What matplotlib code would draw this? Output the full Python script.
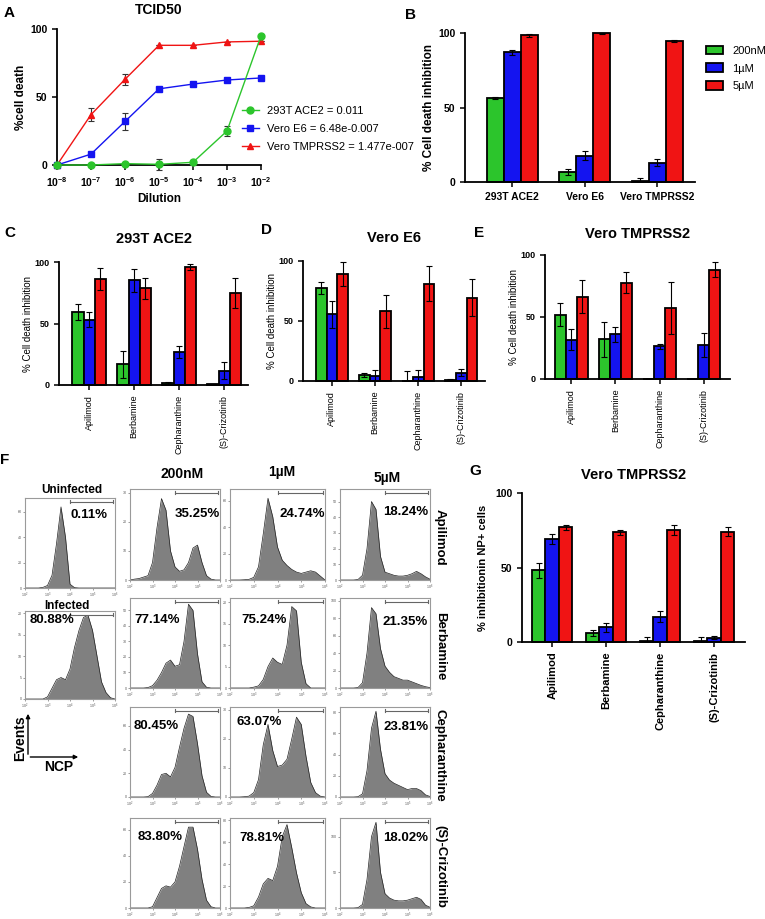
import numpy as np
import matplotlib
matplotlib.use('Agg')
import matplotlib.pyplot as plt
from matplotlib.lines import Line2D
from matplotlib.patches import Patch, FancyArrowPatch

plt.rcParams['font.family'] = ['Liberation Sans', 'DejaVu Sans']
plt.rcParams['mathtext.fontset'] = 'custom'
plt.rcParams['mathtext.rm'] = 'Liberation Sans'
plt.rcParams['mathtext.bf'] = 'Liberation Sans:bold'

# ---- panel A: TCID50 ----
dil_exp = [-8, -7, -6, -5, -4, -3, -2]
tcid_labels = ['293T ACE2 = 0.011', 'Vero E6 = 6.48e-0.007', 'Vero TMPRSS2 = 1.477e-007']
death_293t = [0, 0, 1, 0.5, 2, 25, 95]
err_293t = [0, 0, 0.5, 4, 2, 4, 0]
death_e6 = [0, 8, 32, 56, 59.5, 62.5, 64]
err_e6 = [0, 0, 6, 1.5, 0, 0, 0]
death_tmp = [0, 37, 63, 88, 88, 90.5, 91]
err_tmp = [0, 5, 4, 0, 0, 0, 0]

# ---- panel B ----
conc = ['200nM', '1µM', '5µM']
cells = ['293T ACE2', 'Vero E6', 'Vero TMPRSS2']
b_vals = [[56.5, 6.5, 1], [87, 17.5, 13], [98.5, 99.8, 94.5]]
b_err = [[0.8, 2, 1.5], [1.5, 3, 2.5], [1, 0.3, 0.5]]

# ---- panels C, D, E, G ----
drugs = ['Apilimod', 'Berbamine', 'Cepharanthine', '(S)-Crizotinib']
c_vals = [[59, 17, 1.5, 0.5], [53, 85, 27, 11.5], [86.5, 78.5, 95.7, 74.6]]
c_err = [[6.5, 11, 0.6, 0.5], [6, 9, 5, 7], [9, 8.7, 2.4, 12]]
d_vals = [[77.5, 5, 0, 1], [55.5, 4.5, 3, 7], [89, 58, 81, 69.5]]
d_err = [[5, 1.5, 8.5, 1], [11, 5, 6, 2.7], [10, 14, 14.5, 15.5]]
e_vals = [[52, 32, 0, 0], [31.5, 36, 26.5, 27.5], [66.5, 77.5, 57, 88]]
e_err = [[9, 14, 0, 0], [8.5, 6, 2, 10], [13, 8.5, 21, 6]]
g_vals = [[48, 6, 1, 0.5], [69, 10, 17, 3], [77, 73.5, 75, 74]]
g_err = [[5, 2, 2.5, 3], [3.5, 3, 3.5, 1.2], [1.5, 2, 3.5, 3]]

# ---- panel F: flow histograms (log10 NCP grid, event counts) ----
flow_logx = [2.0, 2.2, 2.4, 2.6, 2.8, 3.0, 3.2, 3.4, 3.6, 3.8, 4.0,
             4.2, 4.4, 4.6, 4.8, 5.0, 5.2, 5.4, 5.6, 5.8, 6.0]
uninfected = [0, 0, 0, 0, 0.5, 2, 10, 35, 64, 40, 3, 0.3, 0, 0, 0, 0, 0, 0, 0, 0, 0]
infected = [0, 0, 0, 0, 0, 0.5, 2.5, 4.5, 5, 4.5, 7, 12, 16, 19, 19.5, 16, 10, 4, 1.5, 0.3, 0]
apilimod = [[0, 0.3, 0.5, 1, 1.5, 6, 18, 28, 24, 10, 4.5, 3, 3.5, 6, 11, 12, 6, 1.5, 0.3, 0, 0],
            [0, 0, 0, 0.2, 0.5, 2, 10, 35, 62, 48, 25, 15, 11, 8, 6, 5, 6, 7, 6, 3, 0],
            [0, 0, 0, 0, 0.3, 3, 20, 50, 45, 15, 5, 4, 3, 2.5, 2.5, 3, 4, 5.5, 4, 2, 0.5]]
berbamine = [[0, 0, 0, 0, 0.3, 1.5, 5, 10, 16, 18, 14, 15, 30, 54, 50, 22, 4, 0.5, 0, 0, 0],
             [0, 0, 0, 0, 0, 0.2, 0.5, 2, 5, 7, 6, 5.5, 10, 19, 18, 6, 1, 0, 0, 0, 0],
             [0, 0, 0, 0, 0.5, 6, 40, 92, 85, 45, 25, 18, 13, 11, 9, 9, 7, 5, 3, 1.5, 0.5]]
cepharanthine = [[0, 0, 0, 0, 0.3, 3, 10, 19, 20, 17, 25, 42, 58, 70, 68, 45, 18, 4, 0.5, 0, 0],
                 [0, 0, 0, 0.1, 0.3, 1.5, 6, 18, 25, 16, 10.5, 11, 13, 20, 27.5, 25, 14, 5, 1.5, 0.3, 0],
                 [0, 0, 0, 0, 0.3, 3, 25, 65, 81, 45, 22, 16, 13, 11, 9, 7, 8, 8, 6, 2, 0.5]]
crizotinib = [[0, 0, 0, 0, 0, 1, 8, 15, 17, 16, 20, 32, 47, 62, 62, 45, 22, 6, 1, 0, 0],
              [0, 0, 0, 0, 0.5, 2, 10, 22, 27, 25, 38, 65, 76, 55, 32, 14, 4, 1, 0, 0, 0],
              [0, 0, 0, 0, 0.5, 5, 40, 100, 120, 50, 20, 14, 11, 10, 10, 11, 13, 15, 12, 4, 1]]
uninf_pct, inf_pct = '0.11%', '80.88%'
pct_apilimod = ['35.25%', '24.74%', '18.24%']
pct_berbamine = ['77.14%', '75.24%', '21.35%']
pct_cepharanthine = ['80.45%', '63.07%', '23.81%']
pct_crizotinib = ['83.80%', '78.81%', '18.02%']
ymax_apilimod, ystep_apilimod = [31.3, 69, 58], [10, 20, 10]
ymax_berbamine, ystep_berbamine = [58, 21, 103], [10, 5, 20]
ymax_cepharanthine, ystep_cepharanthine = [76, 31, 85], [20, 10, 20]
ymax_crizotinib, ystep_crizotinib = [69, 82, 126], [20, 20, 50]

COLORS = ['#2cc52c', '#1414f0', '#f01414']

W, H = 765, 919
fig = plt.figure(figsize=(W / 100, H / 100), dpi=100)


def box(l, t, r, b):
    return fig.add_axes([l / W, 1 - b / H, (r - l) / W, (b - t) / H])


def fx(x):
    return x / W


def fy(y):
    return 1 - y / H


def prism(ax):
    for s in ['top', 'right']:
        ax.spines[s].set_visible(False)
    for s in ['left', 'bottom']:
        ax.spines[s].set_linewidth(1.3)
    ax.tick_params(width=1.1, length=3.5)


# ---------------- A ----------------
ax = box(57, 29, 261, 165)
prism(ax)
for ys, es, c, m, ms in [(death_tmp, err_tmp, COLORS[2], '^', 5),
                         (death_e6, err_e6, COLORS[1], 's', 5),
                         (death_293t, err_293t, COLORS[0], 'o', 5)]:
    ax.errorbar(dil_exp, ys, yerr=es, color=c, marker=m, ms=ms, lw=1,
                ecolor='#333333', elinewidth=0.8, capsize=2.5, capthick=0.8,
                clip_on=False, zorder=3)
ax.set_xlim(-8, -2)
ax.set_ylim(0, 100)
ax.set_xticks(dil_exp)
ax.set_xticklabels([r'$\mathbf{10^{%d}}$' % e for e in dil_exp], fontsize=7.5)
ax.set_yticks([0, 50, 100])
ax.set_yticklabels(['0', '50', '100'], fontsize=7.5, fontweight='bold')
ax.set_xlabel('Dilution', fontsize=8.5, fontweight='bold', labelpad=3)
ax.set_ylabel('%cell death', fontsize=8.5, fontweight='bold', labelpad=2)
ax.set_title('TCID50', fontsize=10, fontweight='bold', pad=11)
handles = [Line2D([], [], color=COLORS[0], marker='o', ms=5, lw=1),
           Line2D([], [], color=COLORS[1], marker='s', ms=5, lw=1),
           Line2D([], [], color=COLORS[2], marker='^', ms=5, lw=1)]
ax.legend(handles, tcid_labels, loc='upper left', bbox_to_anchor=(fx(236), fy(100)),
          bbox_transform=fig.transFigure, frameon=False, fontsize=8,
          handlelength=1.6, handletextpad=0.7, labelspacing=0.75, borderpad=0)


def grouped(ax, vals, errs, width, xlim, labels, lab_kw, ylabel, ylab_kw, ytick_size=7.5):
    prism(ax)
    x = np.arange(len(labels))
    for k in range(3):
        v = np.array(vals[k], dtype=float)
        e = np.array(errs[k], dtype=float)
        ax.bar(x + (k - 1) * width, v, width, color=COLORS[k], edgecolor='black',
               linewidth=1.3, clip_on=False, zorder=2)
        ax.errorbar(x + (k - 1) * width, v, yerr=[np.minimum(e, v), e], fmt='none',
                    ecolor='black', elinewidth=0.8, capsize=2.5, capthick=0.8, zorder=3)
    ax.set_xlim(*xlim)
    ax.set_ylim(0, 100)
    ax.set_xticks(x)
    ax.set_xticklabels(labels, **lab_kw)
    ax.set_yticks([0, 50, 100])
    ax.set_yticklabels(['0', '50', '100'], fontsize=ytick_size, fontweight='bold')
    ax.set_ylabel(ylabel, **ylab_kw)


# ---------------- B ----------------
ax = box(465, 33, 695, 182)
grouped(ax, b_vals, b_err, 0.235, (-0.65, 2.52), cells,
        dict(fontsize=7.5, fontweight='bold'),
        '% Cell death inhibition', dict(fontsize=8.5, fontweight='bold', labelpad=2))
fig.legend([Patch(facecolor=c, edgecolor='black', linewidth=1.3) for c in COLORS], conc,
           loc='upper left', bbox_to_anchor=(fx(700), fy(40)), frameon=False,
           fontsize=8, handlelength=1.6, handleheight=0.8, labelspacing=0.7, borderpad=0)

# ---------------- C, D, E ----------------
small_lab = dict(fontsize=6.5, rotation=90, ha='center', va='top')
small_y = dict(fontsize=7, labelpad=1)
ax = box(59, 262, 248, 385)
grouped(ax, c_vals, c_err, 0.25, (-0.67, 3.53), drugs, small_lab,
        '% Cell death inhibition', small_y, 6.5)
ax.set_title('293T ACE2', fontsize=10.5, fontweight='bold', pad=14)
ax = box(303, 261, 485, 381)
grouped(ax, d_vals, d_err, 0.25, (-0.67, 3.55), drugs, small_lab,
        '% Cell death inhibition', small_y, 6.5)
ax.set_title('Vero E6', fontsize=10.5, fontweight='bold', pad=14)
ax = box(545, 255, 730, 379)
grouped(ax, e_vals, e_err, 0.25, (-0.6, 3.6), drugs, small_lab,
        '% Cell death inhibition', small_y, 6.5)
ax.set_title('Vero TMPRSS2', fontsize=10.5, fontweight='bold', pad=12)

# ---------------- G ----------------
ax = box(522, 493, 745, 642)
grouped(ax, g_vals, g_err, 0.25, (-0.56, 3.57), drugs,
        dict(fontsize=8, fontweight='bold', rotation=90, ha='center', va='top'),
        '% inhibitionin NP+ cells', dict(fontsize=8, fontweight='bold', labelpad=5))
ax.set_title('Vero TMPRSS2', fontsize=10.5, fontweight='bold', pad=10)

# ---------------- F ----------------


def flow(l, t, r, b, heights, ymax, step, pct, px, py, ha):
    ax = fig.add_axes([l / W, 1 - b / H, (r - l) / W, (b - t) / H])
    x = 10 ** np.array(flow_logx)
    ax.fill_between(x, heights, color='#808080', lw=0)
    ax.plot(x, heights, color='#222222', lw=0.5)
    ax.set_xscale('log')
    ax.set_xlim(1e2, 1e6)
    ax.set_ylim(0, ymax)
    ax.set_yticks(np.arange(0, ymax, step))
    ax.set_xticks([1e2, 1e3, 1e4, 1e5, 1e6])
    ax.minorticks_off()
    ax.tick_params(labelsize=2.6, length=1.5, width=0.4, pad=0.8, colors='#555555')
    for s in ax.spines.values():
        s.set_color('#9a9a9a')
        s.set_linewidth(0.8)
    ax.plot([0.5, 0.98], [0.96, 0.96], color='#666666', lw=0.8, transform=ax.transAxes)
    for xe in [0.5, 0.98]:
        ax.plot([xe, xe], [0.94, 0.98], color='#666666', lw=0.8, transform=ax.transAxes)
    ax.text(px, py, pct, transform=ax.transAxes, ha=ha, va='center',
            fontsize=9.5, fontweight='bold')
    return ax


flow(25, 498, 115, 588, uninfected, 71, 20, uninf_pct, 0.92, 0.81, 'right')
flow(25, 611, 115, 699, infected, 20.5, 5, inf_pct, 0.05, 0.9, 'left')
fig.text(fx(72), fy(490), 'Uninfected', ha='center', va='center', fontsize=8.5, fontweight='bold')
fig.text(fx(67), fy(606), 'Infected', ha='center', va='center', fontsize=8.5, fontweight='bold')

cols = [(130, 220), (230, 325), (340, 430)]
rows = [(489, 580), (598, 688), (707, 797), (818, 908)]
row_data = [(apilimod, pct_apilimod, ymax_apilimod, ystep_apilimod),
            (berbamine, pct_berbamine, ymax_berbamine, ystep_berbamine),
            (cepharanthine, pct_cepharanthine, ymax_cepharanthine, ystep_cepharanthine),
            (crizotinib, pct_crizotinib, ymax_crizotinib, ystep_crizotinib)]
text_pos = [[(1.0, 0.73, 'right'), (1.0, 0.73, 'right'), (0.98, 0.75, 'right')],
            [(0.05, 0.76, 'left'), (0.12, 0.76, 'left'), (0.98, 0.73, 'right')],
            [(0.04, 0.79, 'left'), (0.07, 0.83, 'left'), (0.98, 0.78, 'right')],
            [(0.09, 0.79, 'left'), (0.1, 0.78, 'left'), (0.98, 0.78, 'right')]]
for i, (hist, pcts, ymaxs, steps) in enumerate(row_data):
    t, b = rows[i]
    for j, (l, r) in enumerate(cols):
        px, py, ha = text_pos[i][j]
        flow(l, t, r, b, hist[j], ymaxs[j], steps[j], pcts[j], px, py, ha)
    fig.text(fx(440), fy((t + b) / 2 + 3), drugs[i], rotation=-90, ha='center', va='center',
             fontsize=9.5, fontweight='bold')

for name, xc, yc in [(conc[0], 182, 474), (conc[1], 282, 472), (conc[2], 387, 478)]:
    fig.text(fx(xc), fy(yc), name, ha='center', va='center', fontsize=10, fontweight='bold')

fig.add_artist(FancyArrowPatch((fx(28), fy(757)), (fx(28), fy(711)), arrowstyle='-|>',
                               mutation_scale=6, lw=1, color='black', transform=fig.transFigure))
fig.add_artist(FancyArrowPatch((fx(27.5), fy(757)), (fx(81), fy(757)), arrowstyle='-|>',
                               mutation_scale=6, lw=1, color='black', transform=fig.transFigure))
fig.text(fx(20), fy(738), 'Events', rotation=90, ha='center', va='center', fontsize=10, fontweight='bold')
fig.text(fx(59), fy(767), 'NCP', ha='center', va='center', fontsize=10, fontweight='bold')

# panel letters
for letter, xc, yc in [('A', 9, 13), ('B', 410, 15), ('C', 10, 233), ('D', 267, 230),
                       ('E', 479, 233), ('F', 5, 460), ('G', 475, 471)]:
    fig.text(fx(xc), fy(yc), letter, ha='center', va='center', fontsize=11, fontweight='bold')

fig.savefig('out.png', dpi=100)
